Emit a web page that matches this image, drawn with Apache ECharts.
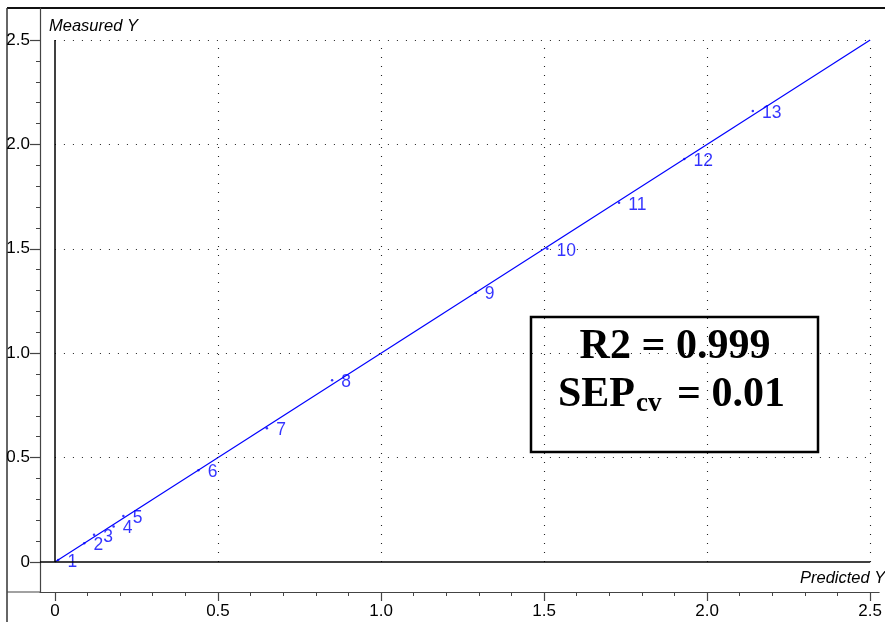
<!DOCTYPE html>
<html>
<head>
<meta charset="utf-8">
<script src="https://cdn.jsdelivr.net/npm/echarts@6/dist/echarts.min.js"></script>
<style>html,body{margin:0;padding:0;background:#fff}#c{width:885px;height:622px}</style>
</head>
<body>
<div id="c"></div>
<script>
// ---- data ----
var sampleNames = ['1','2','3','4','5','6','7','8','9','10','11','12','13'];
var predictedY = [0.01, 0.09, 0.12, 0.18, 0.21, 0.44, 0.65, 0.85, 1.29, 1.51, 1.73, 1.93, 2.14];
var measuredY  = [0.01, 0.09, 0.13, 0.17, 0.22, 0.44, 0.64, 0.87, 1.29, 1.50, 1.72, 1.93, 2.16];
var fitX = [0, 2.5];
var fitY = [0, 2.5];
var majorTicks = [0, 0.5, 1.0, 1.5, 2.0, 2.5];
var minorTicks = [0, 0.1, 0.2, 0.3, 0.4, 0.5, 0.6, 0.7, 0.8, 0.9, 1.0, 1.1, 1.2, 1.3, 1.4, 1.5, 1.6, 1.7, 1.8, 1.9, 2.0, 2.1, 2.2, 2.3, 2.4, 2.5];
var gridTicks = [0.5, 1.0, 1.5, 2.0, 2.5];
var tickLabels = ['0', '0.5', '1.0', '1.5', '2.0', '2.5'];
var xRange = [-0.0457, 2.5274];
var yRange = [-0.1437, 2.6533];
var statLines = ['R2 = 0.999', 'SEP', 'cv', '= 0.01'];

var chart = echarts.init(document.getElementById('c'), null, {renderer: 'canvas'});

function fmt(v) {
  for (var i = 0; i < majorTicks.length; i++) {
    if (Math.abs(majorTicks[i] - v) < 1e-6) return tickLabels[i];
  }
  return '';
}

var axisColor = '#444';
var numFont = {fontFamily: 'Liberation Sans', fontSize: 17, color: '#000'};

function makeAxes(range, isX) {
  var major = {
    type: 'value', min: range[0], max: range[1],
    position: isX ? 'bottom' : 'left',
    axisLine: {show: true, onZero: false, lineStyle: {color: axisColor, width: 1.2}},
    axisTick: {show: true, customValues: majorTicks, length: isX ? 9 : 10, lineStyle: {color: axisColor, width: 1.2}},
    axisLabel: Object.assign({show: true, customValues: majorTicks, formatter: fmt, margin: isX ? 11 : 10, showMinLabel: true, showMaxLabel: true, hideOverlap: false}, numFont),
    splitLine: {show: false}
  };
  var minor = {
    type: 'value', min: range[0], max: range[1],
    position: isX ? 'bottom' : 'left',
    axisLine: {show: false, onZero: false},
    axisTick: {show: true, customValues: minorTicks, length: 4, lineStyle: {color: axisColor, width: 1}},
    axisLabel: {show: false},
    splitLine: {show: false}
  };
  return [major, minor];
}

var hLines = [], vLines = [];
var dotted = {type: [1, 8], color: '#222', width: 1.1};
gridTicks.forEach(function (t) {
  hLines.push([{coord: [0, t], lineStyle: dotted}, {coord: [2.5, t]}]);
  vLines.push([{coord: [t, 0], lineStyle: dotted}, {coord: [t, 2.5]}]);
});
var solid = {type: 'solid', color: '#000', width: 1.5};
var axisLines = [
  [{coord: [xRange[0], 0], lineStyle: solid}, {coord: [2.5, 0]}],
  [{coord: [0, 0], lineStyle: solid}, {coord: [0, 2.5]}]
];

var scatterData = predictedY.map(function (p, i) {
  return {name: sampleNames[i], value: [p, measuredY[i]]};
});

var serifBold = 'bold 42px "Liberation Serif", "Times New Roman", serif';

chart.setOption({
  animation: false,
  backgroundColor: '#fff',
  grid: {left: 40, right: 0, top: 8, bottom: 30, containLabel: false},
  xAxis: makeAxes(xRange, true),
  yAxis: makeAxes(yRange, false),
  series: [
    {
      type: 'line', xAxisIndex: 0, yAxisIndex: 0,
      data: [], silent: true,
      markLine: {
        silent: true, symbol: ['none', 'none'], label: {show: false},
        animation: false,
        data: hLines.concat(vLines).concat(axisLines)
      }
    },
    {
      type: 'line', xAxisIndex: 0, yAxisIndex: 0,
      data: fitX.map(function (x, i) { return [x, fitY[i]]; }),
      showSymbol: false, symbol: 'none',
      lineStyle: {color: '#0000ff', width: 1.2},
      silent: true, z: 3
    },
    {
      type: 'scatter', xAxisIndex: 0, yAxisIndex: 0,
      data: scatterData,
      symbol: 'circle', symbolSize: 2.5,
      itemStyle: {color: '#0000ff'},
      label: {
        show: true, position: 'right', distance: 8, offset: [0, 2],
        formatter: '{b}', color: '#0000ff',
        fontFamily: 'Liberation Sans', fontSize: 17.5
      },
      z: 4
    }
  ],
  graphic: [
    {type: 'line', shape: {x1: 7, y1: 8, x2: 885, y2: 8}, style: {stroke: '#111', lineWidth: 2}},
    {type: 'line', shape: {x1: 7, y1: 8, x2: 7, y2: 622}, style: {stroke: '#333', lineWidth: 1.5}},
    {type: 'line', shape: {x1: 7, y1: 592, x2: 41, y2: 592}, style: {stroke: axisColor, lineWidth: 1.2}},
    {type: 'text', left: 49, top: 18, style: {text: 'Measured Y', font: 'italic 16.5px "Liberation Sans", Arial, sans-serif', fill: '#000'}},
    {type: 'text', left: 800, top: 570, style: {text: 'Predicted Y', font: 'italic 16.5px "Liberation Sans", Arial, sans-serif', fill: '#000'}},
    {type: 'rect', shape: {x: 531, y: 317, width: 287, height: 135}, style: {fill: null, stroke: '#000', lineWidth: 2.5}},
    {type: 'text', x: 675, y: 347, style: {text: statLines[0], font: serifBold, fill: '#000', align: 'center', verticalAlign: 'middle'}},
    {type: 'text', x: 635, y: 395, style: {text: statLines[1], font: serifBold, fill: '#000', align: 'right', verticalAlign: 'middle'}},
    {type: 'text', x: 636, y: 404, style: {text: statLines[2], font: 'bold 27px "Liberation Serif", "Times New Roman", serif', fill: '#000', align: 'left', verticalAlign: 'middle'}},
    {type: 'text', x: 785, y: 395, style: {text: statLines[3], font: serifBold, fill: '#000', align: 'right', verticalAlign: 'middle'}}
  ]
});
</script>
</body>
</html>
